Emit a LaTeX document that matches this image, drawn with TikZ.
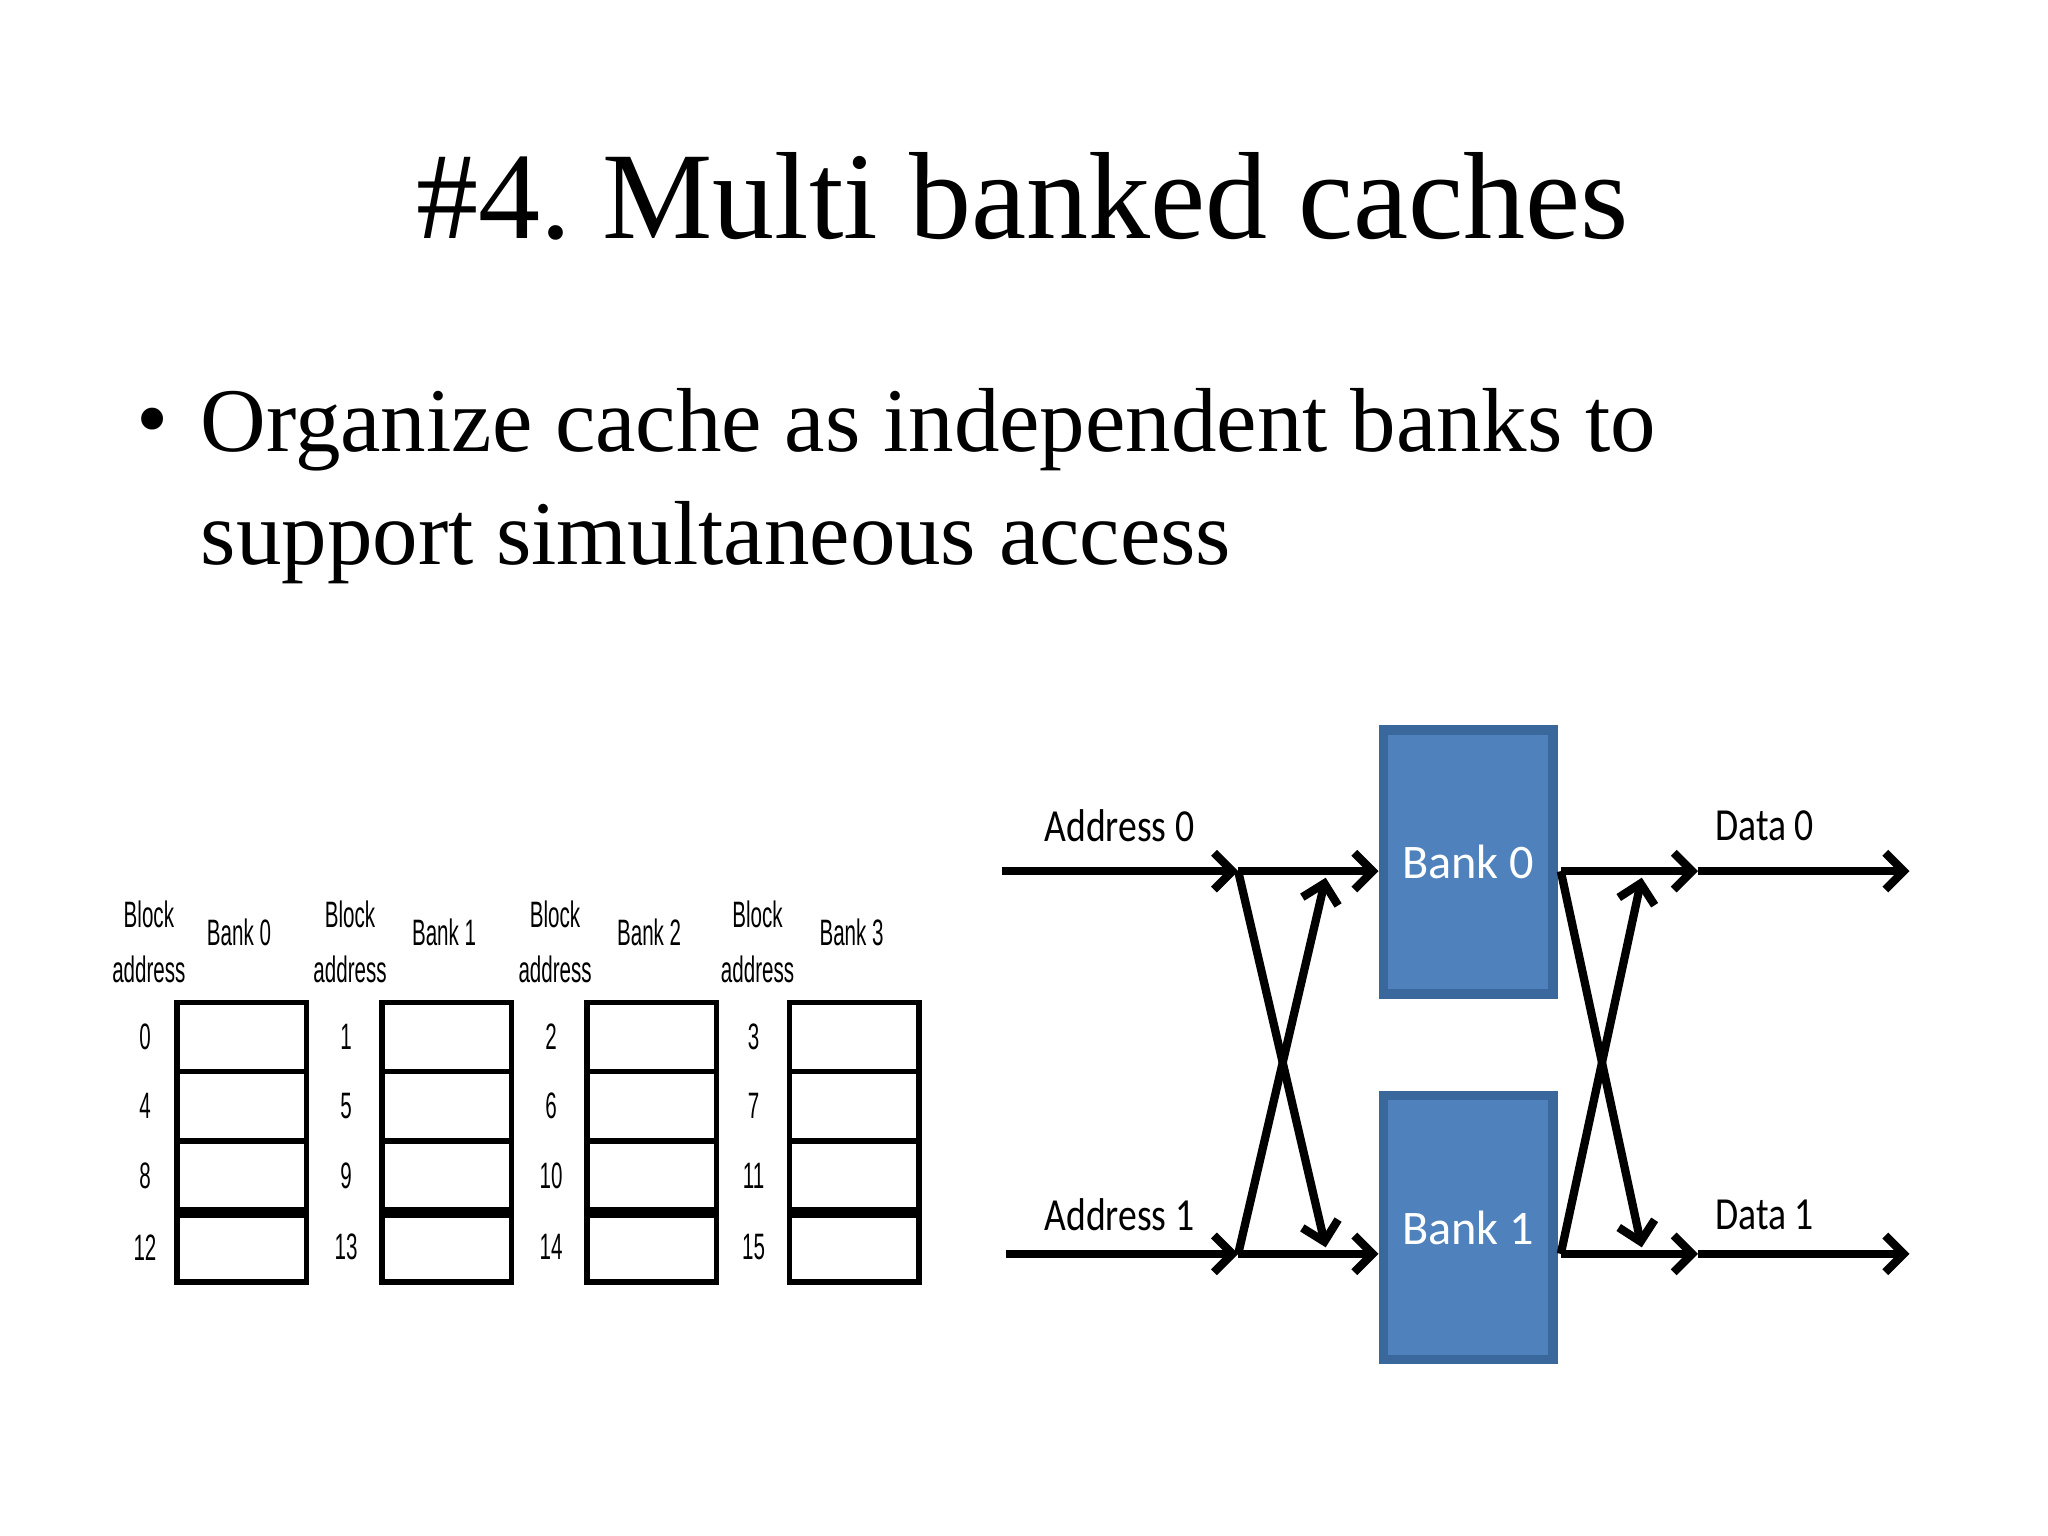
\documentclass[tikz,border=0pt]{standalone}
\usepackage{fontspec}
\setmainfont{Liberation Serif}
\newfontfamily\calib{Carlito}
\newfontfamily\narrow{Liberation Sans}
\usetikzlibrary{arrows.meta}
\definecolor{bankblue}{HTML}{4F81BD}
\definecolor{bankedge}{HTML}{3A679C}
\frenchspacing
\begin{document}
\begin{tikzpicture}[x=0.01cm,y=-0.01cm,
  cell/.style={draw,line width=1.2pt,minimum width=0.99cm,minimum height=0.53cm,inner sep=0},
  small/.style={font=\narrow\fontsize{8}{12}\selectfont,xscale=0.56},
  bank/.style={draw=bankedge,line width=2pt,fill=bankblue,minimum width=1.3cm,minimum height=2.02cm,inner sep=0,text=white,font=\calib\fontsize{10.5}{12}\selectfont},
  lbl/.style={font=\calib\fontsize{10}{12}\selectfont,xscale=0.82},
  wire/.style={line width=1.8pt,-{Straight Barb[length=4pt,width=8pt,line width=1.8pt]}}]
\useasboundingbox (0,0) rectangle (1568,1176);
% title and bullet
\node (title) at (783,150) {\fontsize{27}{32}\selectfont \#4. Multi banked caches};
\node[anchor=west] (dot) at (92,328) {\fontsize{20}{24}\selectfont \textbullet};
\node[anchor=north west,align=left,inner sep=0,font=\fontsize{19.8}{24.5}\selectfont] (text) at (153,297)
  {Organize cache as independent banks to\\support simultaneous access};
% left: banked address table
\foreach \b/\bx/\lx in {0/183/114,1/340/268,2/497/425,3/652/580}{
  \node[small,align=center] (blk\b) at (\lx,721) {Block\\address};
  \node[small] (bnk\b) at (\bx,714) {Bank \b};
  \foreach \r/\ry in {0/794,1/847,2/900,3/955}{
    \pgfmathtruncatemacro{\addr}{4*\r+\b}
    \node[cell] (c\b\r) at (\bx+2,\ry) {};
    \node[small] (a\b\r) at (\lx-3,\ry) {\addr};
  }
  \draw[line width=2.4pt] (c\b2.south west) -- (c\b2.south east);
}
% right: two banks with crossbar
\node[bank] (b0) at (1124,660) {Bank 0};
\node[bank] (b1) at (1124,940) {Bank 1};
\coordinate (in0) at (767,667);
\coordinate (in1) at (770,960);
\coordinate (s0) at (948,667);
\coordinate (s1) at (948,960);
\coordinate (t0) at (1015,672);
\coordinate (t1) at (1015,955);
\coordinate (o0) at (1195,667);
\coordinate (o1) at (1195,960);
\coordinate (m0) at (1300,667);
\coordinate (m1) at (1300,960);
\coordinate (u0) at (1257,672);
\coordinate (u1) at (1257,955);
\coordinate (e0) at (1462,667);
\coordinate (e1) at (1462,960);
\draw[wire] (in0) -- (s0);
\draw[wire] (s0) -- (b0.west|-s0);
\draw[wire] (in1) -- (s1);
\draw[wire] (s1) -- (b1.west|-s1);
\draw[wire] (s0) -- (t1);
\draw[wire] (s1) -- (t0);
\draw[wire] (o0) -- (m0);
\draw[wire] (m0) -- (e0);
\draw[wire] (o1) -- (m1);
\draw[wire] (m1) -- (e1);
\draw[wire] (o0) -- (u1);
\draw[wire] (o1) -- (u0);
\node[lbl] (la0) at (857,632) {Address 0};
\node[lbl] (la1) at (857,930) {Address 1};
\node[lbl] (ld0) at (1351,632) {Data 0};
\node[lbl] (ld1) at (1351,930) {Data 1};
\end{tikzpicture}
\end{document}
